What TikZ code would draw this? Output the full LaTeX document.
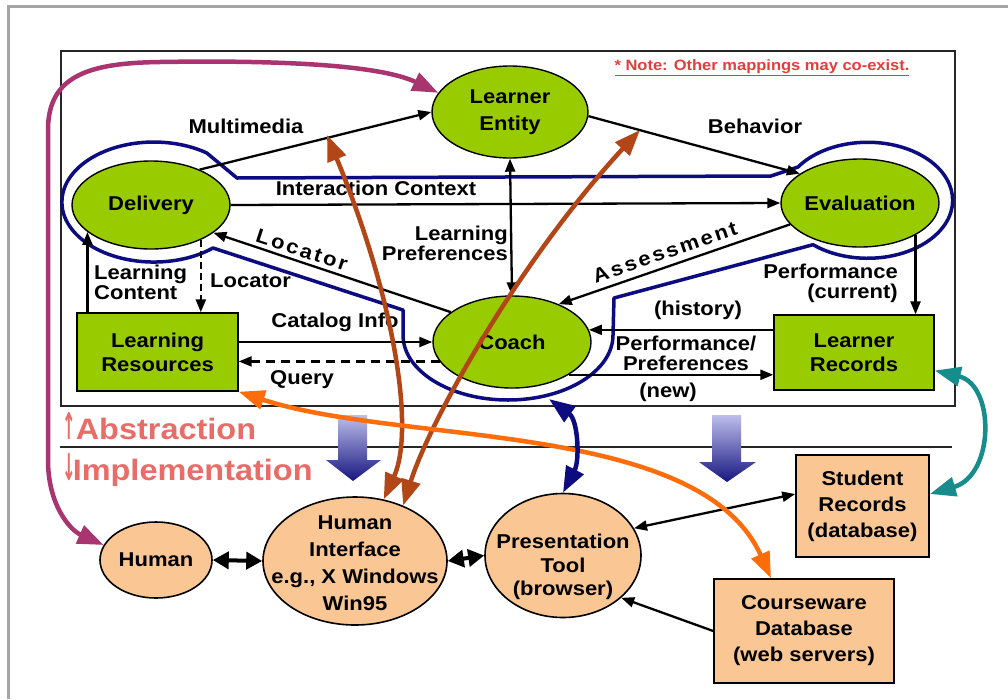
\documentclass[tikz,border=0pt]{standalone}
\usepackage{fontspec}
\usepackage{graphicx}
\setmainfont{Liberation Sans}[FakeStretch=1.1]
\newfontfamily\arrowfont{DejaVu Sans}
\usetikzlibrary{arrows.meta,shapes.geometric,calc}

\definecolor{leafgreen}{RGB}{153,204,0}
\definecolor{peach}{RGB}{250,198,148}
\definecolor{navyline}{RGB}{12,12,128}
\definecolor{rust}{RGB}{178,70,22}
\definecolor{tangerine}{RGB}{255,108,10}
\definecolor{plum}{RGB}{168,52,112}
\definecolor{tealc}{RGB}{22,140,140}
\definecolor{salmon}{RGB}{232,108,104}
\definecolor{notered}{RGB}{228,62,58}
\definecolor{framegray}{RGB}{165,165,165}
\definecolor{blocktop}{RGB}{190,190,236}
\definecolor{blockbot}{RGB}{22,22,128}

% narrow, tall arrow glyph in front of the layer captions
\newcommand{\tallarrow}[1]{\scalebox{0.55}[1.25]{\arrowfont\bfseries #1}}

\begin{document}
\begin{tikzpicture}[x=1pt,y=-1pt,
  font=\fontsize{20}{20}\selectfont\bfseries,
  ellgreen/.style={ellipse, draw=black, line width=1.4pt, fill=leafgreen, inner sep=0pt, align=center},
  ellpeach/.style={ellipse, draw=black, line width=1.6pt, fill=peach, inner sep=0pt, align=center},
  boxgreen/.style={rectangle, draw=black, line width=1.4pt, fill=leafgreen, inner sep=0pt, align=center},
  boxpeach/.style={rectangle, draw=black, line width=1.6pt, fill=peach, inner sep=0pt, align=center},
  nodetext/.style={font=\fontsize{20}{24}\selectfont\bfseries},
  lbl/.style={inner sep=0pt},
  flow/.style={line width=2.3pt, -{Triangle[length=13pt,width=10pt]}},
  flowboth/.style={line width=2.3pt, {Triangle[length=13pt,width=10pt]}-{Triangle[length=13pt,width=10pt]}},
  heavyboth/.style={line width=4pt, {Triangle[length=16pt,width=17pt]}-{Triangle[length=16pt,width=17pt]}},
  bigboth/.style={line width=4.5pt, {Triangle[length=26pt,width=19pt]}-{Triangle[length=26pt,width=19pt]}},
  spaced/.style={font=\fontsize{20}{20}\selectfont\bfseries\addfontfeature{LetterSpace=12}}
]
\useasboundingbox (0,0) rectangle (1008,699);
\fill[white] (0,0) rectangle (1008,699);

% outer frame and the abstract-model panel
\draw[framegray, line width=3pt] (8,699) -- (8,6) -- (1008,6);
\draw[black!85, line width=1.6pt] (61,51) rectangle (955,406);
\draw[black!85, line width=2pt] (60,447) -- (952,447);

\node[text=notered, font=\fontsize{15}{18}\selectfont\bfseries] (note) at (762,68)
  {\underline{* Note: Other mappings may co-exist.}};

% navy boundary around Delivery, Evaluation and Coach
\draw[navyline, line width=3.5pt, line join=round]
  (237,178) -- (771,176) -- (798,167)
  arc[start angle=215, end angle=490, x radius=85, y radius=58]
  -- (614,298) -- (613,335)
  arc[start angle=0, end angle=180, x radius=105, y radius=65]
  -- (403,310) -- (213,248)
  arc[start angle=50, end angle=305, x radius=92, y radius=60]
  -- cycle;
\coordinate (loopbase) at (549,399);

% abstract components
\node[ellgreen, nodetext, minimum width=156pt, minimum height=92pt] (le) at (510,112) {Learner\\[3pt]Entity};
\node[ellgreen, nodetext, minimum width=158pt, minimum height=88pt] (deliv) at (151,205) {Delivery};
\node[ellgreen, nodetext, minimum width=158pt, minimum height=88pt] (eval) at (860,203) {Evaluation};
\node[ellgreen, nodetext, minimum width=158pt, minimum height=92pt] (coach) at (512,342) {Coach};
\node[boxgreen, nodetext, minimum width=161pt, minimum height=78pt] (lres) at (157.5,352) {Learning\\Resources};
\node[boxgreen, nodetext, minimum width=160pt, minimum height=75pt] (lrec) at (854,352.5) {Learner\\Records};

% implementation components
\node[ellpeach, minimum width=112pt, minimum height=76pt] (human) at (156,560) {};
\node[nodetext] (human-t) at (human) {Human};
\node[ellpeach, minimum width=184pt, minimum height=128pt] (hi) at (355,561) {};
\node[align=center, font=\fontsize{20}{27}\selectfont\bfseries] (hi-t) at (355,563)
  {Human\\Interface\\e.g., X Windows\\Win95};
\node[ellpeach, minimum width=156pt, minimum height=124pt] (pt) at (563,555.5) {};
\node[align=center, font=\fontsize{20}{23.5}\selectfont\bfseries] (pt-t) at (563,567)
  {Presentation\\Tool\\(browser)};
\node[boxpeach, font=\fontsize{20}{26}\selectfont\bfseries, minimum width=133pt, minimum height=102pt] (srec) at (862.5,506)
  {Student\\Records\\(database)};
\node[boxpeach, font=\fontsize{20}{26}\selectfont\bfseries, minimum width=180pt, minimum height=104pt] (cdb) at (804,631)
  {Courseware\\Database\\(web servers)};

% information flows between abstract components
\draw[flow] (deliv.36) -- (le.west);
\draw[flow] (le.-3) -- (eval.154);
\draw[flow] (deliv.east) -- (eval.west);
\draw[flowboth] (le.south) -- (coach.north);
\draw[flow] (coach.154) -- (deliv.-24);
\draw[flow] (eval.197) -- (coach.39);
\draw[flow] (coach.9 -| lrec.west) -- (coach.9);
\draw[flow] (coach.-30) -- (coach.-30 -| lrec.west);
\draw[flow] (eval.-30) -- (eval.-30 |- lrec.north);
\draw[flow] (coach.west -| lres.east) -- (coach.west);
\draw[flow, dash pattern=on 9pt off 6pt] (coach.195) -- (coach.195 -| lres.east);
\draw[flow] (lres.north -| deliv.203) -- (deliv.203);
\draw[flow, dash pattern=on 7pt off 4pt] (deliv.-35) -- (deliv.-35 |- lres.north);

% flow labels
\node[lbl] (l-multi) at (246,126) {Multimedia};
\node[lbl] (l-behav) at (755,126) {Behavior};
\node[lbl] (l-ictx) at (376,188) {Interaction Context};
\node[lbl, align=right, anchor=east] (l-lpref) at (508,243) {Learning\\Preferences};
\node[lbl, spaced, rotate=-18] (l-loc1) at (302,250) {Locator};
\node[lbl, spaced, rotate=19] (l-assess) at (665,252) {Assessment};
\node[lbl, align=left, anchor=west] (l-lcont) at (94,282) {Learning\\Content};
\node[lbl, anchor=west] (l-loc2) at (210,281) {Locator};
\node[lbl] (l-cat) at (335,322) {Catalog Info};
\node[lbl] (l-query) at (302,380) {Query};
\node[lbl] (l-hist) at (698,310) {(history)};
\node[lbl, align=center] (l-perfpref) at (686,353) {Performance/\\Preferences};
\node[lbl] (l-new) at (668,392) {(new)};
\node[lbl, align=right, anchor=east] (l-perfcur) at (898,283) {Performance\\(current)};

% layer captions
\node[anchor=base west, inner sep=0pt, text=salmon, font=\fontsize{29.5}{30}\selectfont\bfseries] (abs) at (62,439)
  {\tallarrow{↑}Abstraction};
\node[anchor=base west, inner sep=0pt, text=salmon, font=\fontsize{29.5}{30}\selectfont\bfseries] (impl) at (62,480)
  {\tallarrow{↓}\kern-3pt Implementation};

% mapping arrows down to the implementation layer
\shade[top color=blocktop, bottom color=blockbot]
  (338,415) -- (367,415) -- (367,460) -- (381,460) -- (353,481) -- (326,460) -- (338,460) -- cycle;
\shade[top color=blocktop, bottom color=blockbot]
  (712,415) -- (741,415) -- (741,462) -- (756,462) -- (727,482) -- (699,462) -- (712,462) -- cycle;

% links between implementation components
\draw[heavyboth] (human.east) -- (hi.west);
\draw[heavyboth] (hi.east) -- (pt.west);
\draw[flowboth] (pt.21) -- ([yshift=12pt]srec.west);
\draw[flow] (cdb.west) -- (pt.-36);

% mappings between the two layers
\coordinate (mmhit) at (327,135);
\coordinate (bhhit) at (640,130);
\draw[rust, bigboth] (hi.65) .. controls (415,430) and (395,300) .. (mmhit);
\draw[rust, bigboth] (hi.49) .. controls (430,420) and (520,260) .. (bhhit);
\draw[tangerine, bigboth] (lres.south east) .. controls (400,445) and (700,420) .. ([xshift=-33pt]cdb.north);
\draw[plum, bigboth] (human.164) .. controls (70,530) and (48,505) .. (48,460) -- (48,130)
  .. controls (48,75) and (90,63) .. (160,62) .. controls (280,60) and (380,65) .. (le.165);
\draw[tealc, bigboth] ([yshift=-18pt]lrec.east) .. controls (995,385) and (995,475) .. ([yshift=12pt]srec.east);
\draw[navyline, bigboth] (loopbase) .. controls (578,420) and (580,460) .. (pt.north);
\end{tikzpicture}
\end{document}
